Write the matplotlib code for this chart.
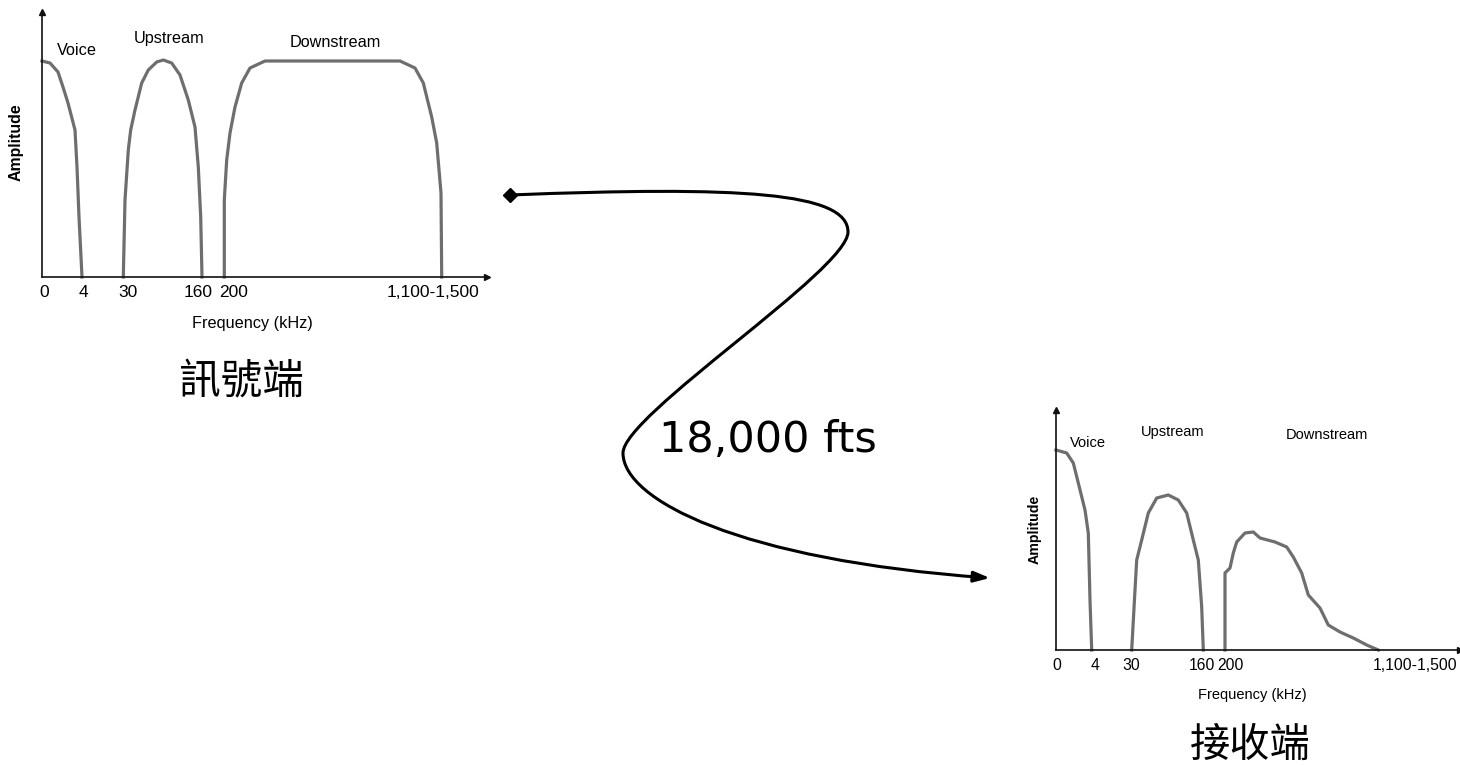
import matplotlib
matplotlib.use("Agg")
import matplotlib.pyplot as plt
from matplotlib.path import Path
from matplotlib.patches import FancyArrowPatch, ArrowStyle

# spectrum at the sending end (panel units ~ pixels from the origin)
send_voice_x = [0, 8, 16, 21, 26, 33, 35, 37, 40]
send_voice_y = [216, 214, 205, 190, 174, 147, 110, 60, 0]
send_up_x = [81.3, 83, 86.3, 88.7, 93, 99.7, 106.3, 114.7, 121.3, 129.7, 138, 146.3,
             153, 156.3, 158.7, 160]
send_up_y = [0, 77, 127, 147, 167, 194, 207, 215, 217, 214, 202, 177, 150, 110, 60, 0]
send_down_x = [182.3, 182.3, 184.7, 188, 193, 199.7, 208, 223, 358, 373, 381.3,
               389.7, 394.7, 399, 399.7]
send_down_y = [0, 77, 117, 144, 170, 194, 209, 216, 216, 209, 194, 160, 134, 84, 0]

# spectrum at the receiving end after 18,000 ft
recv_voice_x = [0, 10.7, 17.3, 22.3, 29, 32.3, 34, 35.7]
recv_voice_y = [200, 197, 187, 167, 140, 117, 50, 0]
recv_up_x = [75.7, 79, 80.7, 85.7, 92.3, 100.7, 112.3, 122.3, 130.7, 137.3, 142.3,
             145.7, 147.3]
recv_up_y = [0, 60, 90, 110, 137, 152, 155, 150, 137, 110, 90, 43, 0]
recv_down_x = [169, 169, 174, 177.3, 180.7, 189, 197.3, 204, 219, 230.7, 237.3, 245.7,
               252.3, 264, 272.3, 284, 297.3, 310.7, 322.3]
recv_down_y = [0, 77, 82, 97, 108, 117, 118, 112, 108, 103, 93, 77, 55, 42, 25, 18,
               12, 5, 0]

tick_labels = ["0", "4", "30", "160", "200", "1,100-1,500"]
send_ticks = [2, 41, 86, 156, 192, 391]
recv_ticks = [1, 39, 75, 146, 174, 359]

W, H = 1460, 767
SANS = ["Liberation Sans", "DejaVu Sans"]
CJK = ["Noto Sans CJK TC", "DejaVu Sans"]
GRAY = "#6e6e6e"

fig = plt.figure(figsize=(W / 100, H / 100), dpi=100)
bg = fig.add_axes([0, 0, 1, 1])
bg.set_xlim(0, W)
bg.set_ylim(H, 0)
bg.axis("off")


def panel(ox, oy, w, h, curves, ticks, pos, fs):
    ax = fig.add_axes([ox / W, (H - oy) / H, w / W, h / H])
    ax.patch.set_alpha(0)
    ax.set_xlim(0, w)
    ax.set_ylim(0, h)
    for s in ["top", "right"]:
        ax.spines[s].set_visible(False)
    for s in ["left", "bottom"]:
        ax.spines[s].set_linewidth(1.2)
        ax.spines[s].set_color("#111111")
    ax.plot(1, 0, ">", color="#111111", ms=5, transform=ax.transAxes, clip_on=False)
    ax.plot(0, 1, "^", color="#111111", ms=5, transform=ax.transAxes, clip_on=False)
    for x, y in curves:
        ax.plot(x, y, color=GRAY, lw=2.3, solid_joinstyle="round", clip_on=False)
    ax.set_xticks(ticks, tick_labels, family=SANS, fontsize=fs + 0.8)
    ax.set_yticks([])
    ax.tick_params(axis="x", length=0, pad=6)
    ax.text(*pos["voice"], "Voice", family=SANS, fontsize=fs, ha="center", va="center")
    ax.text(*pos["up"], "Upstream", family=SANS, fontsize=fs, ha="center", va="center")
    ax.text(*pos["down"], "Downstream", family=SANS, fontsize=fs, ha="center", va="center")
    ax.text(*pos["freq"], "Frequency (kHz)", family=SANS, fontsize=fs,
            ha="center", va="center", clip_on=False)
    ax.text(*pos["amp"], "Amplitude", family=SANS, fontsize=fs - 0.3, fontweight="bold",
            rotation=90, ha="center", va="center", clip_on=False)
    return ax


panel(42, 277, 445, 265,
      [(send_voice_x, send_voice_y), (send_up_x, send_up_y), (send_down_x, send_down_y)],
      send_ticks,
      {"voice": (35, 227), "up": (127, 239), "down": (293, 235),
       "freq": (210, -46), "amp": (-26, 135)}, 11.7)

panel(1056, 650, 404, 240,
      [(recv_voice_x, recv_voice_y), (recv_up_x, recv_up_y), (recv_down_x, recv_down_y)],
      recv_ticks,
      {"voice": (32, 207), "up": (117, 218), "down": (271, 215),
       "freq": (196, -45), "amp": (-21, 121)}, 10.5)

# the cable between the two ends
verts = [(510, 195), (740, 186), (848, 192), (848, 232),
         (848, 270), (623, 415), (623, 453),
         (623, 500), (740, 560), (990, 578)]
codes = [Path.MOVETO] + [Path.CURVE4] * 9
cable = FancyArrowPatch(path=Path(verts, codes), color="black", lw=2.2,
                        arrowstyle=ArrowStyle("-|>", head_length=0.95, head_width=0.32),
                        mutation_scale=10, shrinkA=0, shrinkB=0)
bg.add_patch(cable)
bg.plot(510, 195, marker="D", ms=7, color="black")

bg.text(768, 440, "18,000 fts", fontsize=31, family="DejaVu Sans", ha="center", va="center")
bg.text(241, 383, "訊號端", fontsize=30, family=CJK, fontweight="light",
        ha="center", va="center")
bg.text(1250, 745, "接收端", fontsize=29, family=CJK, fontweight="light",
        ha="center", va="center")

fig.savefig("out.png", dpi=100)
